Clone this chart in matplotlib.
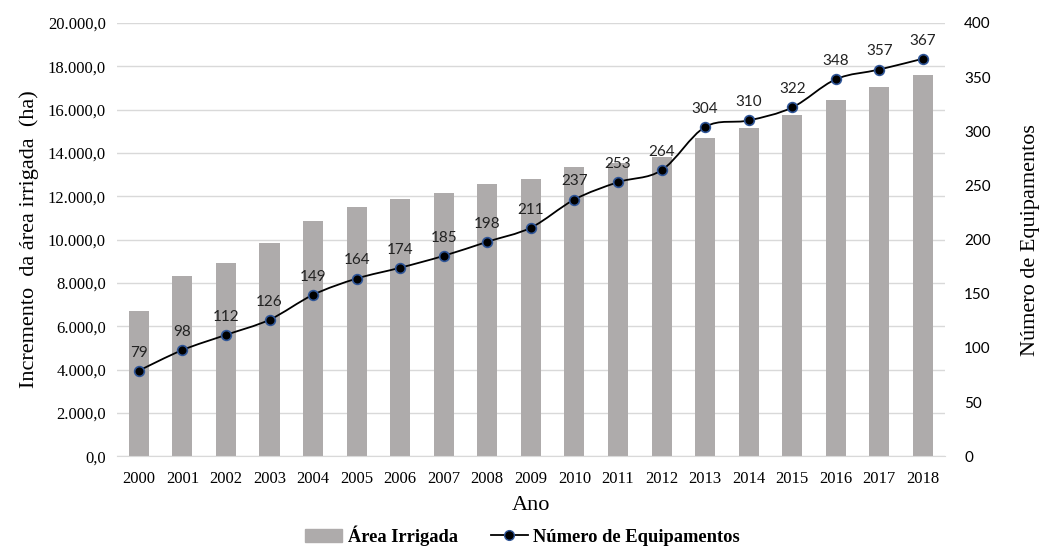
import numpy as np
import matplotlib.pyplot as plt
from matplotlib.path import Path
from matplotlib.patches import PathPatch
from matplotlib.lines import Line2D
from matplotlib.patches import Patch

# dados
anos = ['2000', '2001', '2002', '2003', '2004', '2005', '2006', '2007', '2008', '2009',
        '2010', '2011', '2012', '2013', '2014', '2015', '2016', '2017', '2018']
area = [6700, 8330, 8900, 9820, 10870, 11510, 11890, 12160, 12560, 12810,
        13330, 13520, 13800, 14700, 15160, 15740, 16460, 17030, 17610]
equip = [79, 98, 112, 126, 149, 164, 174, 185, 198, 211,
         237, 253, 264, 304, 310, 322, 348, 357, 367]

serif = 'Liberation Serif'
sans = 'Lato'
cor_barra = '#AEABAB'
cor_grade = '#D9D9D9'

fig = plt.figure(figsize=(10.45, 5.47), dpi=100)
ax = fig.add_axes([0.112, 0.166, 0.792, 0.792])
ax2 = ax.twinx()

x = np.arange(len(anos))
ax.bar(x, area, width=0.46, color=cor_barra, zorder=2)
ax.set_ylim(0, 20000)
ax.set_xlim(-0.5, len(anos) - 0.5)
ax.set_yticks(np.arange(0, 20001, 2000))
ax.set_yticklabels(['{:,.1f}'.format(v).replace(',', 'X').replace('.', ',').replace('X', '.')
                    for v in np.arange(0, 20001, 2000)], fontfamily=serif, fontsize=12)
ax.set_xticks(x)
ax.set_xticklabels(anos, fontfamily=serif, fontsize=12)
ax.grid(axis='y', color=cor_grade, lw=1, zorder=0)
ax.set_axisbelow(True)
ax.tick_params(axis='y', length=0, pad=8)
ax.tick_params(axis='x', length=0, pad=11)
for s in ['top', 'left', 'right']:
    ax.spines[s].set_visible(False)
ax.spines['bottom'].set_color(cor_grade)
ax.set_xlabel('Ano', fontfamily=serif, fontsize=16, labelpad=6)
ax.set_ylabel('Incremento  da área irrigada  (ha)', fontfamily=serif, fontsize=16, labelpad=6)

# linha suavizada (bezier tipo catmull-rom)
pts = np.column_stack([x, equip]).astype(float)
verts = [pts[0]]
codes = [Path.MOVETO]
n = len(pts)
for i in range(n - 1):
    p0 = pts[max(i - 1, 0)]
    p1 = pts[i]
    p2 = pts[i + 1]
    p3 = pts[min(i + 2, n - 1)]
    verts += [p1 + (p2 - p0) / 6, p2 - (p3 - p1) / 6, p2]
    codes += [Path.CURVE4] * 3
ax2.add_patch(PathPatch(Path(verts, codes), fill=False, edgecolor='black', lw=1.3, zorder=3))
ax2.plot(x, equip, ls='none', marker='o', markersize=7, markerfacecolor='black',
         markeredgecolor='#2F5597', markeredgewidth=1.2, zorder=4)
for xi, v in zip(x, equip):
    ax2.annotate(str(v), (xi, v), xytext=(0, 8), textcoords='offset points',
                 ha='center', va='bottom', fontfamily=sans, fontsize=11, color='#222222')

ax2.set_ylim(0, 400)
ax2.set_yticks(np.arange(0, 401, 50))
ax2.set_yticklabels([str(v) for v in range(0, 401, 50)], fontfamily=sans, fontsize=11)
ax2.tick_params(length=0, pad=14)
for s in ['top', 'left', 'right', 'bottom']:
    ax2.spines[s].set_visible(False)
ax2.set_ylabel('Número de Equipamentos', fontfamily=serif, fontsize=16, labelpad=22)

handles = [Patch(color=cor_barra),
           Line2D([], [], color='black', lw=1.3, marker='o', markersize=7,
                  markerfacecolor='black', markeredgecolor='#2F5597')]
fig.legend(handles, ['Área Irrigada', 'Número de Equipamentos'], loc='lower center',
           bbox_to_anchor=(0.5, -0.028), ncol=2, frameon=False, handlelength=2.0,
           handletextpad=0.3, columnspacing=1.8,
           prop={'family': serif, 'size': 13.3, 'weight': 'bold'})

fig.savefig('out.png', dpi=100)
